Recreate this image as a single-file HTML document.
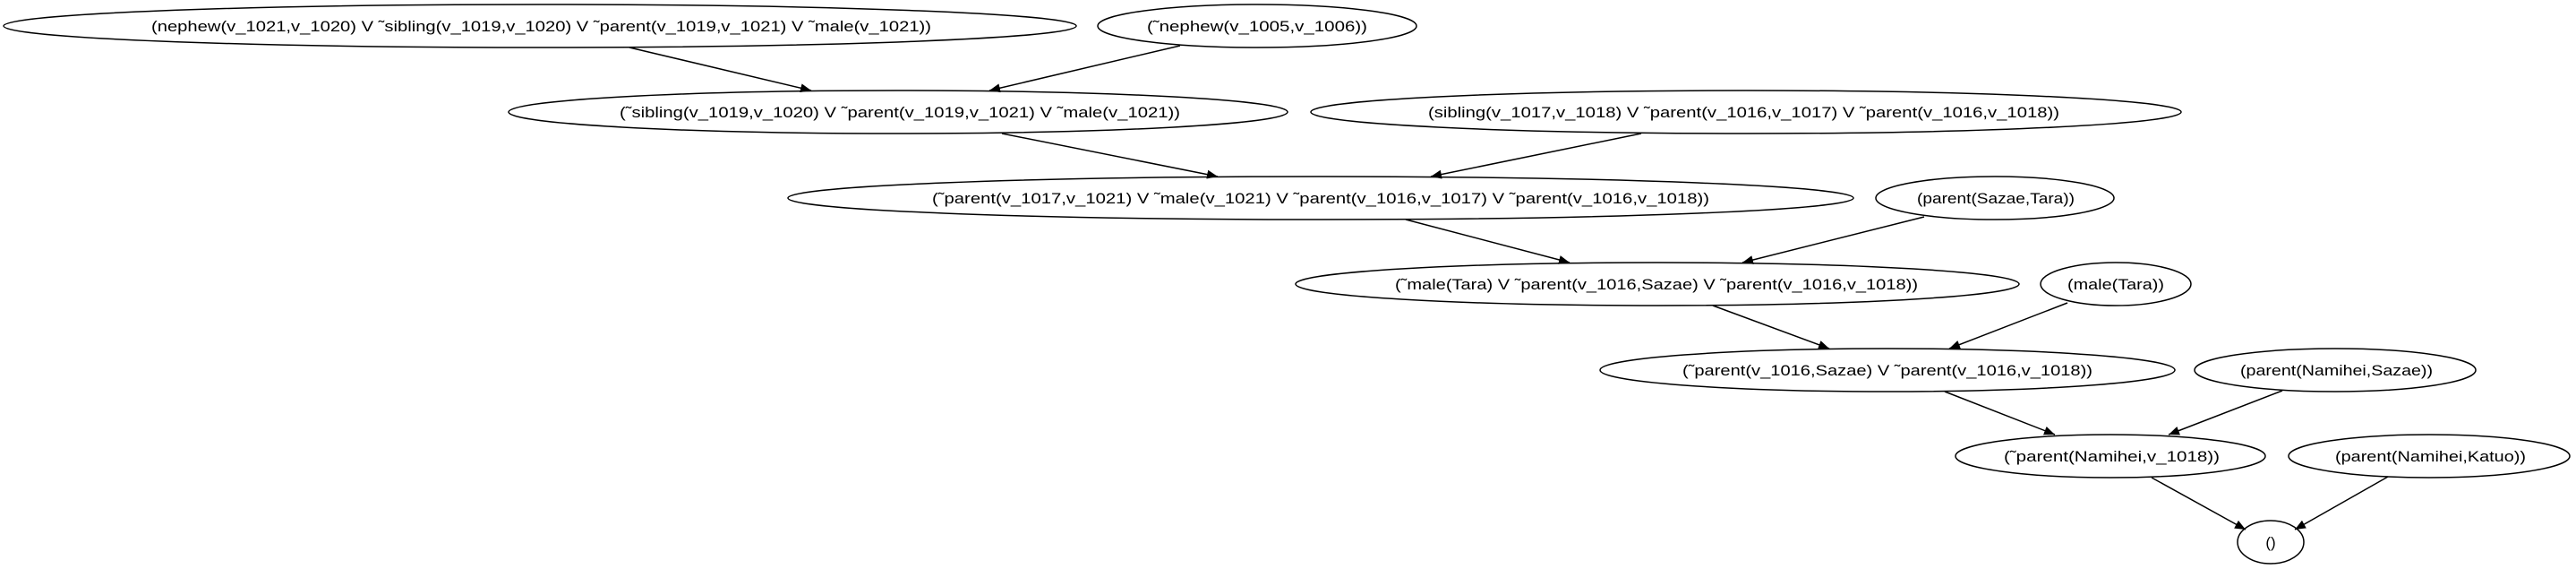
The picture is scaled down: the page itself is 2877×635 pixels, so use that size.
<!DOCTYPE html>
<html><head><meta charset="utf-8"><style>
html,body{margin:0;padding:0;background:#fff;}
svg{display:block;}
text{font-family:"Liberation Sans",sans-serif;font-size:17px;fill:#000;}
</style></head><body>
<svg width="2877" height="635" viewBox="0 0 2877 635" xmlns="http://www.w3.org/2000/svg">
<defs><marker id="ar" markerWidth="12" markerHeight="10" refX="12" refY="5" orient="auto" markerUnits="userSpaceOnUse"><path d="M0,0 L12,5 L0,10 z" fill="#000"/></marker></defs>
<g fill="none" stroke="#000" stroke-width="1.5">
<ellipse cx="603" cy="29" rx="599" ry="24"/>
<ellipse cx="1404" cy="29" rx="178" ry="24"/>
<ellipse cx="1003" cy="125" rx="435" ry="24"/>
<ellipse cx="1950" cy="125" rx="486" ry="24"/>
<ellipse cx="1475" cy="221" rx="595" ry="24"/>
<ellipse cx="2228" cy="221" rx="133" ry="24"/>
<ellipse cx="1851" cy="317" rx="404" ry="24"/>
<ellipse cx="2363" cy="317" rx="84" ry="24"/>
<ellipse cx="2108" cy="413" rx="321" ry="24"/>
<ellipse cx="2608" cy="413" rx="157" ry="24"/>
<ellipse cx="2357" cy="509" rx="173" ry="24"/>
<ellipse cx="2713" cy="509" rx="157" ry="24"/>
<ellipse cx="2536" cy="605" rx="37" ry="24"/>
</g>
<g stroke="#000" stroke-width="1.5" marker-end="url(#ar)">
<line x1="703" y1="53" x2="906" y2="101"/>
<line x1="1318" y1="51" x2="1105" y2="101"/>
<line x1="1119" y1="149" x2="1360" y2="197"/>
<line x1="1833" y1="149" x2="1598" y2="197"/>
<line x1="1570" y1="245" x2="1753" y2="293"/>
<line x1="2149" y1="242" x2="1946" y2="293"/>
<line x1="1913" y1="341" x2="2043" y2="389"/>
<line x1="2309" y1="338" x2="2177" y2="389"/>
<line x1="2172" y1="437" x2="2295" y2="485"/>
<line x1="2549" y1="436" x2="2422" y2="485"/>
<line x1="2403" y1="533" x2="2508" y2="591"/>
<line x1="2667" y1="532" x2="2563" y2="591"/>
</g>
<g>
<text x="169" y="35" textLength="871" lengthAdjust="spacingAndGlyphs">(nephew(v_1021,v_1020) V ˜sibling(v_1019,v_1020) V ˜parent(v_1019,v_1021) V ˜male(v_1021))</text>
<text x="1281" y="35" textLength="246" lengthAdjust="spacingAndGlyphs">(˜nephew(v_1005,v_1006))</text>
<text x="692" y="131" textLength="626" lengthAdjust="spacingAndGlyphs">(˜sibling(v_1019,v_1020) V ˜parent(v_1019,v_1021) V ˜male(v_1021))</text>
<text x="1595" y="131" textLength="705" lengthAdjust="spacingAndGlyphs">(sibling(v_1017,v_1018) V ˜parent(v_1016,v_1017) V ˜parent(v_1016,v_1018))</text>
<text x="1041" y="227" textLength="868" lengthAdjust="spacingAndGlyphs">(˜parent(v_1017,v_1021) V ˜male(v_1021) V ˜parent(v_1016,v_1017) V ˜parent(v_1016,v_1018))</text>
<text x="2141" y="227" textLength="176" lengthAdjust="spacingAndGlyphs">(parent(Sazae,Tara))</text>
<text x="1558" y="323" textLength="584" lengthAdjust="spacingAndGlyphs">(˜male(Tara) V ˜parent(v_1016,Sazae) V ˜parent(v_1016,v_1018))</text>
<text x="2309" y="323" textLength="108" lengthAdjust="spacingAndGlyphs">(male(Tara))</text>
<text x="1879" y="419" textLength="458" lengthAdjust="spacingAndGlyphs">(˜parent(v_1016,Sazae) V ˜parent(v_1016,v_1018))</text>
<text x="2502" y="419" textLength="215" lengthAdjust="spacingAndGlyphs">(parent(Namihei,Sazae))</text>
<text x="2238" y="515" textLength="241" lengthAdjust="spacingAndGlyphs">(˜parent(Namihei,v_1018))</text>
<text x="2608" y="515" textLength="213" lengthAdjust="spacingAndGlyphs">(parent(Namihei,Katuo))</text>
<text x="2536" y="611" text-anchor="middle">()</text>
</g>
</svg>
</body></html>
